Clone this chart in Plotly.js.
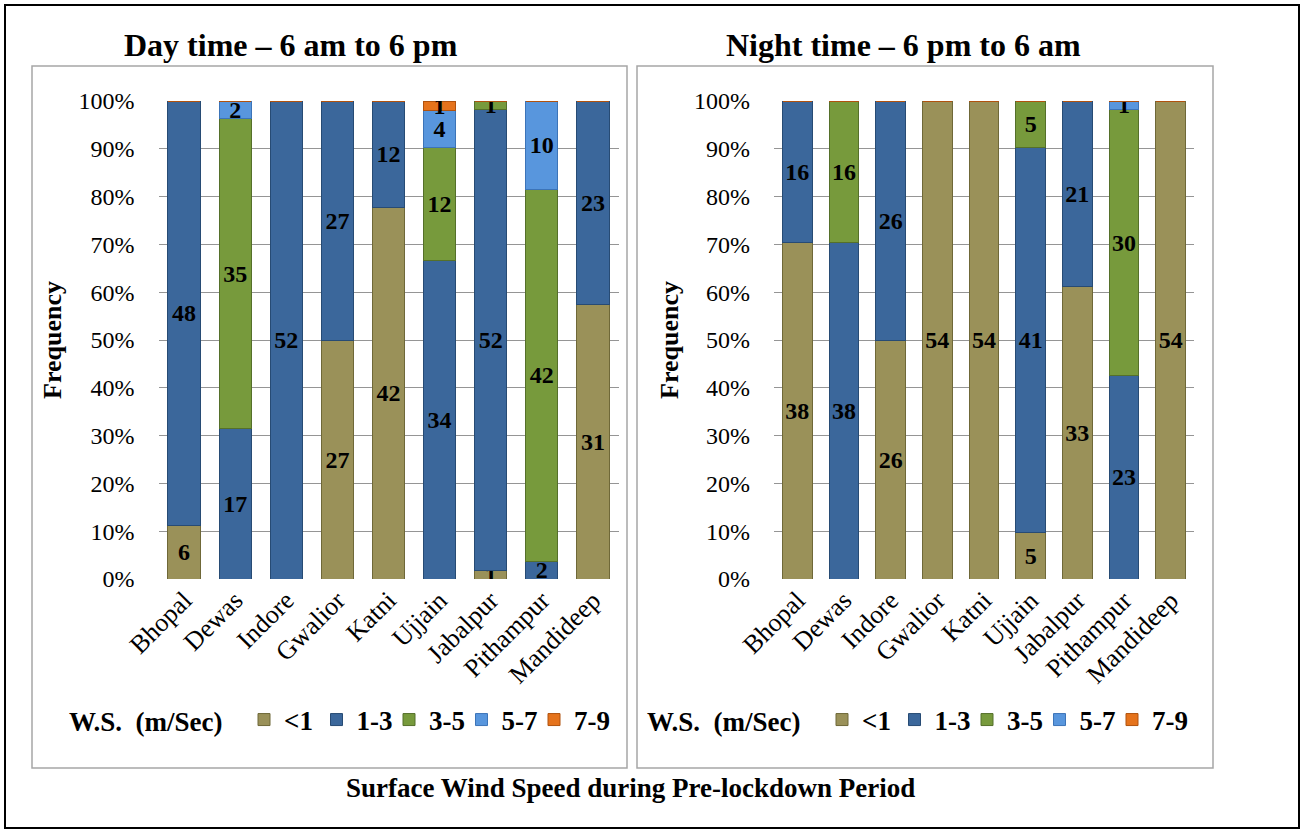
<!DOCTYPE html>
<html>
<head>
<meta charset="utf-8">
<script src="https://cdn.plot.ly/plotly-3.0.1.min.js"></script>
<style>html,body{margin:0;padding:0;background:#fff;}#chart{width:1304px;height:832px;}</style>
</head>
<body>
<div id="chart"></div>
<script>
const cities = ['Bhopal','Dewas','Indore','Gwalior','Katni','Ujjain','Jabalpur','Pithampur','Mandideep'];
const classes = ['<1','1-3','3-5','5-7','7-9'];
const classColors = ['#9A9159','#3B679B','#779A3C','#5896DD','#E5731C'];
const classLines = ['#6F6838','#274B74','#55702A','#3C74B8','#B0520E'];

// Day time counts per wind-speed class
const dayLt1  = [6, 0, 0, 27, 42, 0, 1, 0, 31];
const day1to3 = [48, 17, 52, 27, 12, 34, 52, 2, 23];
const day3to5 = [0, 35, 0, 0, 0, 12, 1, 42, 0];
const day5to7 = [0, 2, 0, 0, 0, 4, 0, 10, 0];
const day7to9 = [0, 0, 0, 0, 0, 1, 0, 0, 0];

// Night time counts per wind-speed class
const nightLt1  = [38, 0, 26, 54, 54, 5, 33, 0, 54];
const night1to3 = [16, 38, 26, 0, 0, 41, 21, 23, 0];
const night3to5 = [0, 16, 0, 0, 0, 5, 0, 30, 0];
const night5to7 = [0, 0, 0, 0, 0, 0, 0, 1, 0];
const night7to9 = [0, 0, 0, 0, 0, 0, 0, 0, 0];

const daySeries = [dayLt1, day1to3, day3to5, day5to7, day7to9];
const nightSeries = [nightLt1, night1to3, night3to5, night5to7, night7to9];

const W = 1304, H = 832;
const px = x => x / W;
const py = y => 1 - y / H;
const SERIF = 'Liberation Serif, Times New Roman, serif';

function makeTraces(series, xa, ya, legendId) {
  return series.map((vals, i) => ({
    type: 'bar',
    name: classes[i],
    x: cities,
    y: vals,
    xaxis: xa, yaxis: ya,
    legend: legendId,
    text: vals.map(v => v > 0 ? String(v) : ''),
    textposition: 'inside',
    insidetextanchor: 'middle',
    textangle: 0,
    constraintext: 'none',
    textfont: {family: SERIF, size: 24, color: '#000', weight: 'bold'},
    marker: {color: classColors[i], line: {color: classLines[i], width: 1}},
    hoverinfo: 'x+y+name'
  }));
}

const traces = [
  ...makeTraces(daySeries, 'x', 'y', 'legend'),
  ...makeTraces(nightSeries, 'x2', 'y2', 'legend2')
];

const yDomain = [py(579), py(101)];
const axisY = {
  range: [0, 100], dtick: 10, ticksuffix: '%', domain: yDomain,
  showgrid: true, gridcolor: '#959595', gridwidth: 1, zeroline: false,
  showline: false, ticks: '', ticklabelstandoff: 23,
  tickfont: {family: SERIF, size: 24, color: '#000'}, fixedrange: true
};
const axisX = {
  tickangle: -45, ticks: '', showline: false, showgrid: false,
  tickfont: {family: SERIF, size: 26, color: '#000'}, fixedrange: true
};

const legendBase = {
  orientation: 'h', yanchor: 'middle', xanchor: 'left',
  font: {family: SERIF, size: 27, color: '#000', weight: 'bold'},
  title: {text: 'W.S.\u00a0\u00a0(m/Sec)\u00a0\u00a0', side: 'left', font: {family: SERIF, size: 27, color: '#000', weight: 'bold'}},
  bgcolor: 'rgba(0,0,0,0)', traceorder: 'normal', entrywidth: 27.5
};

const layout = {
  width: W, height: H,
  margin: {l: 0, r: 0, t: 0, b: 0},
  paper_bgcolor: '#fff', plot_bgcolor: '#fff',
  barmode: 'stack', barnorm: 'percent',
  bargap: 0.37,
  uniformtext: {mode: 'show', minsize: 24},
  showlegend: true,
  xaxis: Object.assign({}, axisX, {domain: [px(158.5), px(618.5)], anchor: 'y'}),
  yaxis: Object.assign({}, axisY, {anchor: 'x'}),
  xaxis2: Object.assign({}, axisX, {domain: [px(774), px(1194)], anchor: 'y2'}),
  yaxis2: Object.assign({}, axisY, {anchor: 'x2'}),
  legend: Object.assign({}, legendBase, {x: px(67), y: py(720)}),
  legend2: Object.assign({}, legendBase, {x: px(645), y: py(720)}),
  shapes: [
    {type: 'rect', xref: 'paper', yref: 'paper', x0: px(5), x1: px(1299), y0: py(828), y1: py(5), line: {color: '#000', width: 2}},
    {type: 'rect', xref: 'paper', yref: 'paper', x0: px(32), x1: px(627), y0: py(768), y1: py(66), line: {color: '#a6a6a6', width: 1.5}},
    {type: 'rect', xref: 'paper', yref: 'paper', x0: px(637), x1: px(1213), y0: py(768), y1: py(66), line: {color: '#a6a6a6', width: 1.5}}
  ],
  annotations: [
    {text: 'Day time \u2013 6 am to 6 pm', xref: 'paper', yref: 'paper', x: px(291), y: py(45), xanchor: 'center', yanchor: 'middle', showarrow: false,
     font: {family: SERIF, size: 32, color: '#000', weight: 'bold'}},
    {text: 'Night time \u2013 6 pm to 6 am', xref: 'paper', yref: 'paper', x: px(903), y: py(45), xanchor: 'center', yanchor: 'middle', showarrow: false,
     font: {family: SERIF, size: 32, color: '#000', weight: 'bold'}},
    {text: 'Frequency', xref: 'paper', yref: 'paper', x: px(52), y: py(340), xanchor: 'center', yanchor: 'middle', textangle: -90, showarrow: false,
     font: {family: SERIF, size: 26, color: '#000', weight: 'bold'}},
    {text: 'Frequency', xref: 'paper', yref: 'paper', x: px(669), y: py(340), xanchor: 'center', yanchor: 'middle', textangle: -90, showarrow: false,
     font: {family: SERIF, size: 26, color: '#000', weight: 'bold'}},
    {text: 'Surface Wind Speed during Pre-lockdown Period', xref: 'paper', yref: 'paper', x: px(630), y: py(788), xanchor: 'center', yanchor: 'middle', showarrow: false,
     font: {family: SERIF, size: 27, color: '#000', weight: 'bold'}}
  ]
};

Plotly.newPlot('chart', traces, layout, {displayModeBar: false, staticPlot: true}).then(gd => {
  // let the last legend entry's label extend past the fixed entry width (both legends)
  gd.querySelectorAll('.scrollbox').forEach(el => el.removeAttribute('clip-path'));
});
</script>
</body>
</html>
